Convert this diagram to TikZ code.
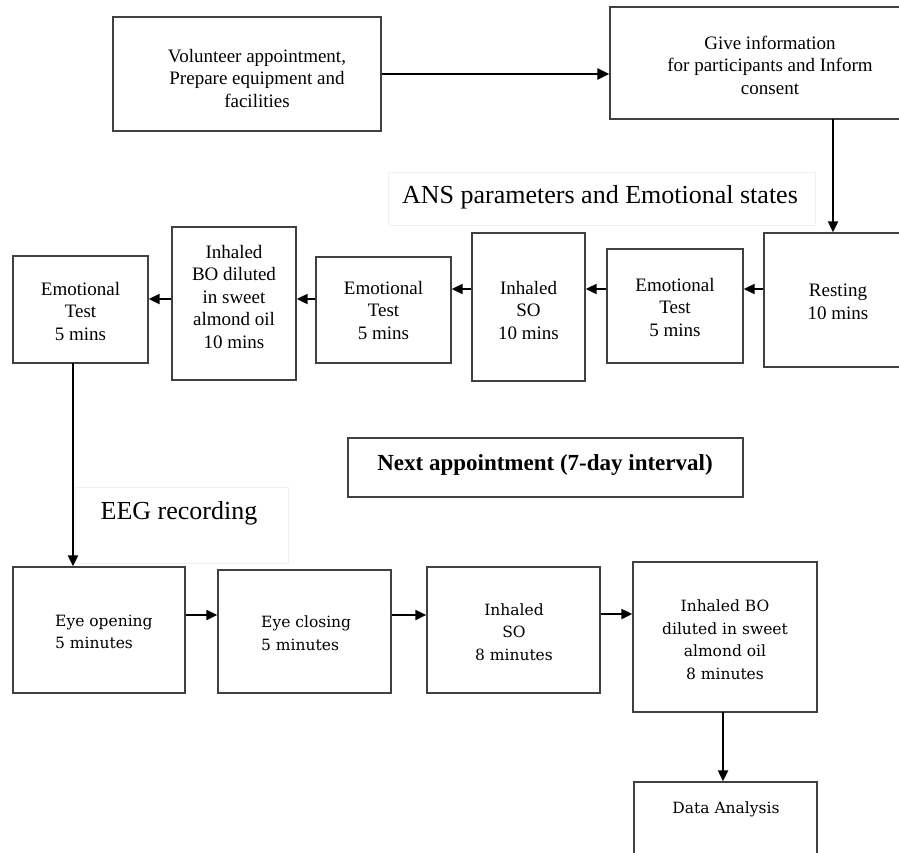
\documentclass[tikz,border=0pt]{standalone}
\usepackage{fontspec}
\setmainfont{Liberation Serif}
\newfontfamily\dvs{DejaVu Serif}
\usetikzlibrary{arrows.meta,calc}
\begin{document}
\begin{tikzpicture}[x=1pt,y=-1pt,
  box/.style={draw=black!75,line width=1.4pt,inner sep=0pt,fill=white},
  txt/.style={align=center,font=\fontsize{19}{22.5}\selectfont,inner sep=0pt},
  btxt/.style={align=center,font=\dvs\fontsize{15.5}{22.5}\selectfont,inner sep=0pt},
  frame/.style={draw=black!6,line width=0.8pt,inner sep=0pt},
  arr/.style={line width=2.2pt,-{Triangle[length=11pt,width=10pt]}},
  arrthick/.style={line width=2.6pt,-{Triangle[length=12pt,width=11pt]}}]
\useasboundingbox (0,0) rectangle (899,852);
\clip (0,0) rectangle (899,852);
\fill[white] (0,0) rectangle (899,852);
% labels frames
\node[frame,minimum width=427pt,minimum height=53pt] (ansf) at (601.5,198.5) {};
\node[txt,font=\fontsize{26}{30}\selectfont] (ans) at (600,197) {ANS parameters and Emotional states};
\node[frame,minimum width=213pt,minimum height=76pt] (eegf) at (181.5,525) {};
\node[txt,font=\fontsize{26}{30}\selectfont] (eeg) at (179,513) {EEG recording};
% top row
\node[box,minimum width=268pt,minimum height=114pt] (b1) at (247,74) {};
\node[txt] (t1) at (257,78) {Volunteer appointment,\\Prepare equipment and\\facilities};
\node[box,minimum width=320pt,minimum height=112pt] (b2) at (770,63) {};
\node[txt] (t2) at (770,65) {Give information\\for participants and Inform\\consent};
% second row
\node[box,minimum width=148pt,minimum height=134pt] (rest) at (838,300) {};
\node[txt] (trest) at (838,302) {Resting\\10 mins};
\node[box,minimum width=136pt,minimum height=114pt] (et3) at (675,306) {};
\node[txt] (tet3) at (675,307) {Emotional\\Test\\5 mins};
\node[box,minimum width=113pt,minimum height=148pt] (so1) at (528.5,307) {};
\node[txt] (tso1) at (528.5,310) {Inhaled\\SO\\10 mins};
\node[box,minimum width=135pt,minimum height=106pt] (et2) at (383.5,310) {};
\node[txt] (tet2) at (383.5,310) {Emotional\\Test\\5 mins};
\node[box,minimum width=124pt,minimum height=153pt] (bo1) at (234,303.5) {};
\node[txt] (tbo1) at (234,296.5) {Inhaled\\BO diluted\\in sweet\\almond oil\\10 mins};
\node[box,minimum width=135pt,minimum height=107pt] (et1) at (80.5,309.5) {};
\node[txt] (tet1) at (80.5,311) {Emotional\\Test\\5 mins};
% next appointment
\node[box,minimum width=395pt,minimum height=59pt] (next) at (545.5,467.5) {};
\node[txt,font=\bfseries\fontsize{23}{26}\selectfont] (tnext) at (545,465) {Next appointment (7-day interval)};
% bottom row
\node[box,minimum width=172pt,minimum height=126pt] (eo) at (99,630) {};
\node[btxt,anchor=west,align=left] (teo) at (55,632) {Eye opening\\5 minutes};
\node[box,minimum width=173pt,minimum height=123pt] (ec) at (304.5,631.5) {};
\node[btxt,anchor=west,align=left] (tec) at (261,633) {Eye closing\\5 minutes};
\node[box,minimum width=173pt,minimum height=126pt] (so2) at (513.5,630) {};
\node[btxt] (tso2) at (514,632) {Inhaled\\SO\\8 minutes};
\node[box,minimum width=184pt,minimum height=150pt] (bo2) at (725,637) {};
\node[btxt] (tbo2) at (725,639.5) {Inhaled BO\\diluted in sweet\\almond oil\\8 minutes};
\node[box,minimum width=183pt,minimum height=118pt] (da) at (725.5,841) {};
\node[btxt] (tda) at (726,809) {Data Analysis};
% connectors
\draw[arrthick] (b1.east) -- (b2.west |- b1.east);
\coordinate (c1) at (833,119);
\coordinate (c2) at (c1 |- rest.north);
\draw[arr] (c1) -- (c2);
\draw[arr] (rest.west |- 0,289) -- (et3.east |- 0,289);
\draw[arr] (et3.west |- 0,289) -- (so1.east |- 0,289);
\draw[arr] (so1.west |- 0,289) -- (et2.east |- 0,289);
\draw[arr] (et2.west |- 0,299) -- (bo1.east |- 0,299);
\draw[arr] (bo1.west |- 0,299) -- (et1.east |- 0,299);
\coordinate (c3) at (73,363);
\coordinate (c4) at (c3 |- eo.north);
\draw[arr] (c3) -- (c4);
\draw[arr] (eo.east |- 0,615) -- (ec.west |- 0,615);
\draw[arr] (ec.east |- 0,615) -- (so2.west |- 0,615);
\draw[arr] (so2.east |- 0,614) -- (bo2.west |- 0,614);
\coordinate (c5) at (723,712);
\coordinate (c6) at (c5 |- da.north);
\draw[arr] (c5) -- (c6);
\end{tikzpicture}
\end{document}
